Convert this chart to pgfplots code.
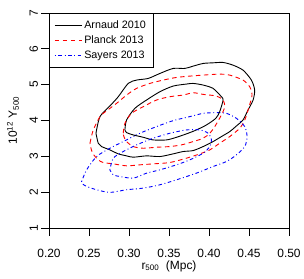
\documentclass[border=0pt]{standalone}
\usepackage{pgfplots}
\pgfplotsset{compat=1.18}
\usepackage{fontspec}
\setmainfont{Liberation Sans}
\begin{document}
\begin{tikzpicture}
\useasboundingbox (-49bp,-51bp) rectangle (255bp,228bp);
\begin{axis}[
  at={(0,0)}, anchor=south west,
  scale only axis, width=240bp, height=215bp,
  xmin=0.2, xmax=0.5, ymin=1, ymax=7,
  xtick={0.2,0.25,0.3,0.35,0.4,0.45,0.5},
  ytick={1,2,3,4,5,6,7},
  /pgf/number format/assume math mode=true,
  tick align=outside, tick pos=left, major tick length=7.5bp,
  axis line style={line width=0.8bp},
  every tick/.style={black, line width=0.8bp},
  tick label style={font=\fontsize{12}{14}\selectfont},
  xticklabel style={yshift=-10bp, /pgf/number format/.cd, fixed, fixed zerofill, precision=2},
  yticklabel style={rotate=90, anchor=south},
  label style={font=\fontsize{12}{14}\selectfont},
  xlabel={r\textsubscript{500}\ \ (Mpc)},
  xlabel style={at={(axis description cs:0.5,0)}, anchor=base, yshift=-41bp},
  ylabel={10\textsuperscript{12} Y\textsubscript{500}},
  ylabel style={at={(axis description cs:0,0.5)}, anchor=base, yshift=32bp},
  legend cell align=left,
  legend style={at={(0,1)}, anchor=north west, draw=black, line width=0.8bp,
    font=\fontsize{10.8}{12}\selectfont, inner xsep=5bp, inner ysep=5bp, row sep=2bp},
  legend image code/.code={\draw[#1] (0bp,0bp) -- (22bp,0bp); \path (0bp,0bp) -- (27bp,0bp);},
  every axis plot/.append style={line width=0.9bp, smooth, tension=0.45},
]
% Arnaud 2010 outer
\addplot[black] coordinates {
(0.2587,3.644)(0.2637,4.108)(0.2761,4.405)(0.2866,4.664)(0.2990,5.035)(0.3094,5.128)
(0.3240,5.174)(0.3386,5.313)(0.3552,5.453)(0.3698,5.453)(0.3802,5.518)(0.3927,5.592)
(0.4051,5.610)(0.4176,5.620)(0.4300,5.545)(0.4425,5.406)(0.4530,5.128)(0.4571,4.850)
(0.4551,4.571)(0.4488,4.293)(0.4425,4.015)(0.4343,3.848)(0.4259,3.690)(0.4155,3.551)
(0.4051,3.412)(0.3927,3.273)(0.3802,3.161)(0.3677,3.134)(0.3552,3.069)(0.3386,2.994)
(0.3219,3.013)(0.3053,2.976)(0.2970,3.013)(0.2866,3.069)(0.2761,3.180)(0.2657,3.273)
(0.2616,3.366)(0.2587,3.644)};
\addlegendentry{Arnaud 2010}
% Planck 2013 outer
\addplot[red, dash pattern=on 4.5bp off 3.5bp] coordinates {
(0.2512,3.366)(0.2553,3.737)(0.2637,4.108)(0.2678,4.200)(0.2845,4.479)(0.2970,4.710)
(0.3094,4.896)(0.3261,5.035)(0.3427,5.128)(0.3594,5.202)(0.3760,5.239)(0.3927,5.267)
(0.4134,5.295)(0.4259,5.267)(0.4425,5.128)(0.4509,4.942)(0.4538,4.710)(0.4501,4.386)
(0.4447,4.015)(0.4384,3.783)(0.4259,3.551)(0.4134,3.366)(0.4010,3.180)(0.3885,3.069)
(0.3718,2.948)(0.3510,2.827)(0.3302,2.790)(0.3136,2.763)(0.2970,2.735)(0.2803,2.790)
(0.2678,2.827)(0.2616,2.902)(0.2545,3.087)(0.2520,3.273)(0.2512,3.366)};
\addlegendentry{Planck 2013}
% Sayers 2013 outer
\addplot[blue, dash pattern=on 0.9bp off 2.6bp on 3.6bp off 2.6bp] coordinates {
(0.2408,2.299)(0.2470,2.623)(0.2595,2.994)(0.2761,3.226)(0.2928,3.412)(0.3136,3.644)
(0.3344,3.829)(0.3552,3.996)(0.3760,4.108)(0.3927,4.200)(0.4093,4.219)(0.4218,4.200)
(0.4343,4.061)(0.4447,3.829)(0.4476,3.551)(0.4447,3.273)(0.4343,3.041)(0.4218,2.855)
(0.4051,2.716)(0.3843,2.531)(0.3594,2.345)(0.3386,2.206)(0.3178,2.113)(0.2970,2.067)
(0.2761,1.993)(0.2595,2.067)(0.2470,2.160)(0.2420,2.230)(0.2408,2.299)};
\addlegendentry{Sayers 2013}
% Arnaud inner
\addplot[black, forget plot] coordinates {
(0.2949,3.737)(0.2970,4.015)(0.3074,4.340)(0.3219,4.571)(0.3386,4.803)(0.3552,4.961)
(0.3718,5.017)(0.3802,5.035)(0.3927,4.989)(0.4051,4.896)(0.4155,4.664)(0.4176,4.571)
(0.4134,4.247)(0.4085,4.061)(0.3968,3.876)(0.3843,3.737)(0.3739,3.644)(0.3594,3.532)
(0.3469,3.458)(0.3302,3.458)(0.3178,3.532)(0.3053,3.597)(0.2970,3.662)(0.2949,3.737)};
% Planck inner
\addplot[red, dash pattern=on 4.5bp off 3.5bp, forget plot] coordinates {
(0.2928,3.644)(0.2949,3.922)(0.3032,4.200)(0.3178,4.386)(0.3344,4.571)(0.3510,4.664)
(0.3677,4.710)(0.3802,4.775)(0.3927,4.729)(0.4093,4.683)(0.4176,4.571)(0.4197,4.386)
(0.4155,4.154)(0.4072,3.829)(0.4010,3.644)(0.3927,3.505)(0.3802,3.412)(0.3656,3.319)
(0.3510,3.273)(0.3344,3.254)(0.3178,3.226)(0.3053,3.273)(0.2970,3.412)(0.2936,3.551)
(0.2928,3.644)};
% Sayers inner
\addplot[blue, dash pattern=on 0.9bp off 2.6bp on 3.6bp off 2.6bp, forget plot] coordinates {
(0.2761,2.623)(0.2803,2.948)(0.2928,3.134)(0.3094,3.319)(0.3302,3.505)(0.3510,3.644)
(0.3718,3.737)(0.3885,3.737)(0.3990,3.644)(0.4031,3.458)(0.4010,3.273)(0.3927,3.087)
(0.3760,2.902)(0.3594,2.763)(0.3386,2.623)(0.3219,2.530)(0.3053,2.391)(0.2886,2.438)
(0.2803,2.484)(0.2761,2.623)};
\end{axis}
\end{tikzpicture}
\end{document}
